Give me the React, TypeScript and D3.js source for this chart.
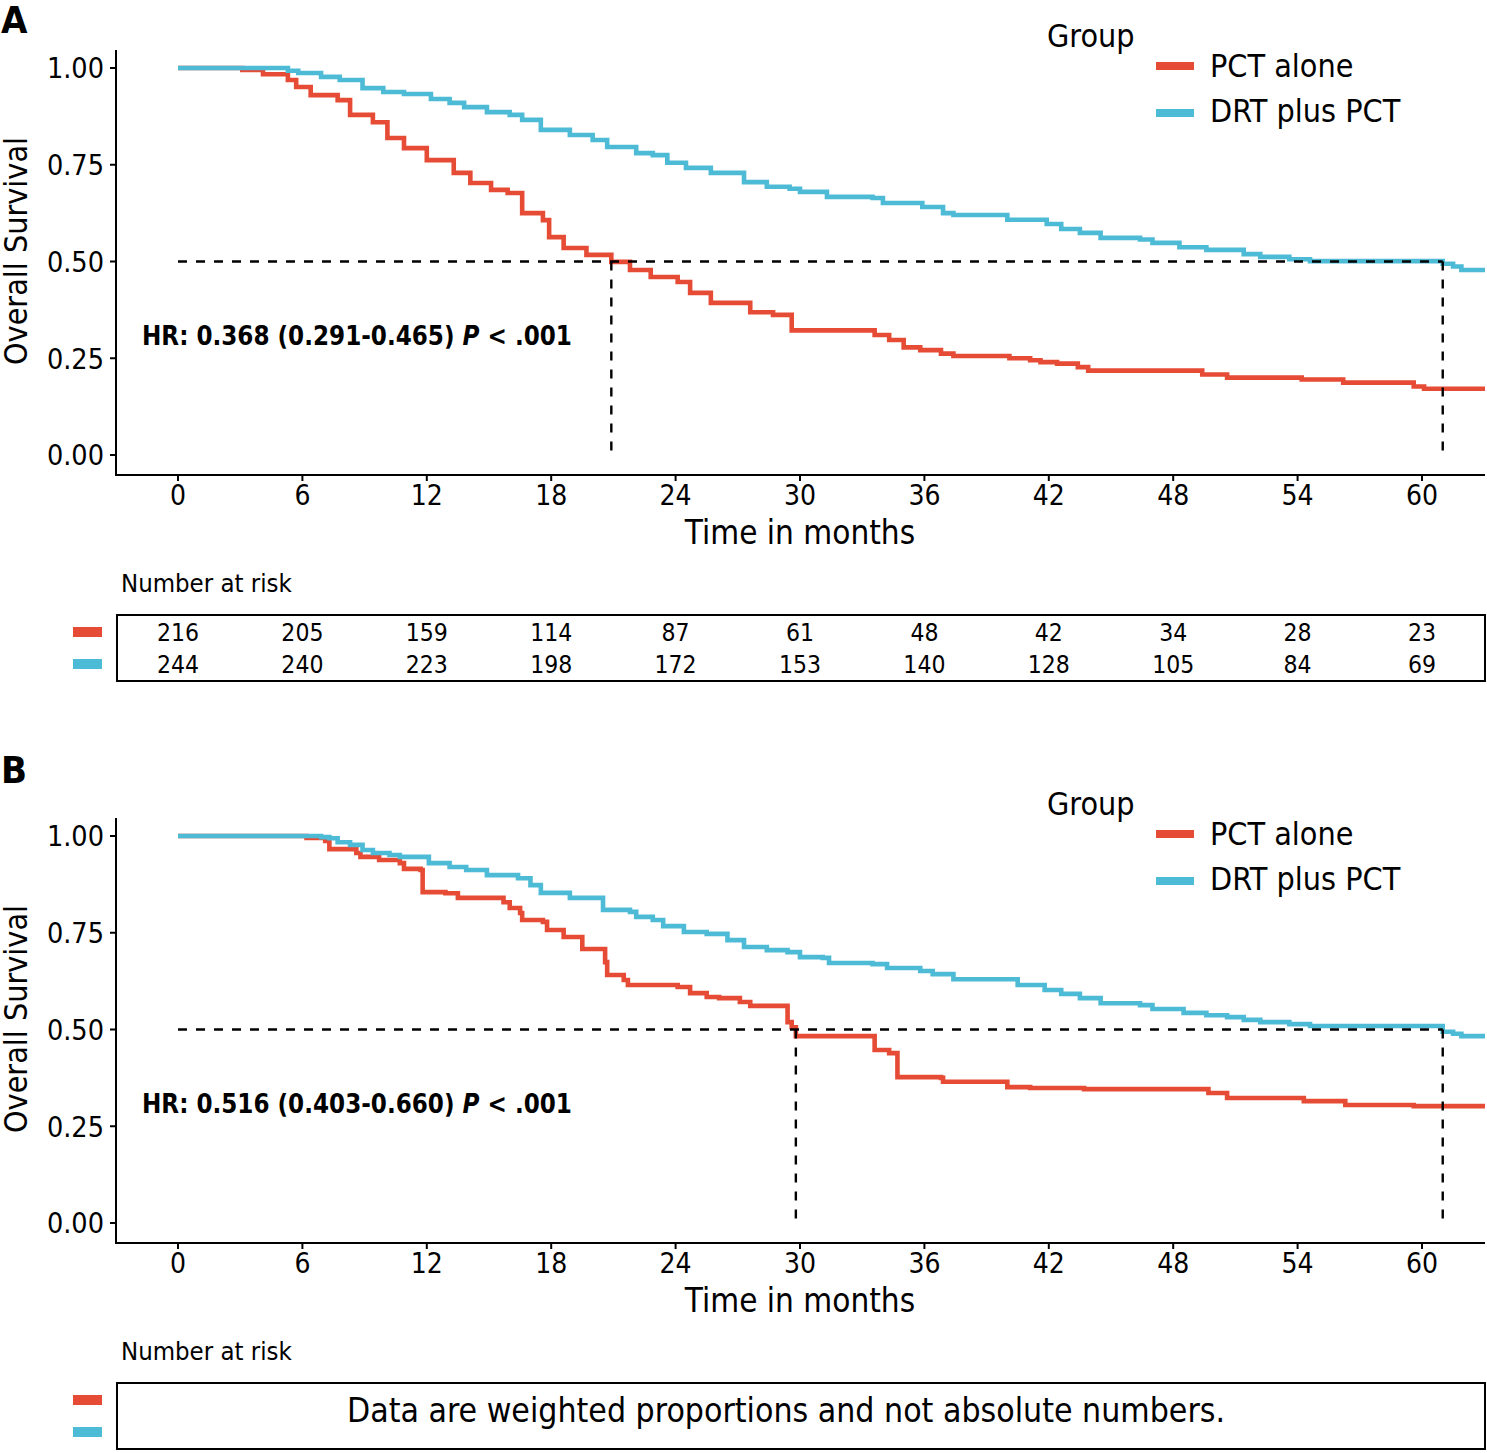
import React from "react";
import * as d3 from "d3";

// ---------- data ----------
const groups = ["PCT alone", "DRT plus PCT"];
const groupColors = ["#E64B35", "#4DBBD5"];
const xTicks = [0, 6, 12, 18, 24, 30, 36, 42, 48, 54, 60];
const yTicks = [0, 0.25, 0.5, 0.75, 1];
const yTickLabels = ["0.00", "0.25", "0.50", "0.75", "1.00"];
const followUpEnd = 63.1;

const riskPctA = [216, 205, 159, 114, 87, 61, 48, 42, 34, 28, 23];
const riskDrtA = [244, 240, 223, 198, 172, 153, 140, 128, 105, 84, 69];

const pctA: [number, number][] = [
  [0, 1], [3.1, 0.995], [4.1, 0.984], [5.3, 0.969], [5.7, 0.951], [6.4, 0.93], [7.7, 0.917],
  [8.3, 0.879], [9.4, 0.86], [10.1, 0.819], [10.9, 0.793], [12.0, 0.762], [13.3, 0.729],
  [14.1, 0.703], [15.1, 0.685], [15.9, 0.677], [16.6, 0.625], [17.6, 0.607], [17.9, 0.563],
  [18.6, 0.535], [19.7, 0.517], [20.9, 0.499], [21.8, 0.478], [22.8, 0.46], [24.1, 0.447],
  [24.7, 0.419], [25.7, 0.393], [27.6, 0.369], [28.7, 0.362], [29.6, 0.322], [33.6, 0.31],
  [34.3, 0.297], [35.0, 0.278], [35.8, 0.271], [36.8, 0.262], [37.4, 0.256], [40.1, 0.25],
  [41.1, 0.245], [41.6, 0.24], [42.4, 0.236], [43.4, 0.227], [43.9, 0.218], [49.4, 0.208],
  [50.6, 0.2], [54.2, 0.195], [56.2, 0.187], [59.6, 0.177], [60.1, 0.171],
];
const drtA: [number, number][] = [
  [0, 1], [5.3, 0.993], [5.8, 0.987], [6.9, 0.977], [7.8, 0.969], [8.9, 0.948], [9.9, 0.938],
  [10.9, 0.933], [12.2, 0.92], [13.1, 0.91], [13.8, 0.899], [14.9, 0.886], [16.0, 0.879],
  [16.6, 0.866], [17.5, 0.84], [18.9, 0.827], [20.0, 0.814], [20.7, 0.796], [22.1, 0.78],
  [22.9, 0.775], [23.6, 0.755], [24.5, 0.742], [25.7, 0.729], [27.3, 0.705], [28.4, 0.693],
  [29.5, 0.688], [30.0, 0.68], [31.3, 0.667], [33.5, 0.664], [34.0, 0.651], [35.9, 0.641],
  [36.9, 0.625], [37.4, 0.62], [40.0, 0.608], [41.9, 0.597], [42.6, 0.584], [43.5, 0.574],
  [44.5, 0.561], [46.4, 0.557], [47.0, 0.548], [48.3, 0.537], [49.6, 0.53], [51.4, 0.519],
  [52.2, 0.512], [53.6, 0.506], [54.6, 0.501], [61.0, 0.494], [61.5, 0.487], [61.9, 0.478],
];
const pctB: [number, number][] = [
  [0, 1], [6.2, 0.995], [7.1, 0.987], [7.3, 0.966], [8.6, 0.956], [8.8, 0.946], [9.7, 0.938],
  [10.7, 0.93], [10.9, 0.915], [11.7, 0.912], [11.8, 0.855], [12.9, 0.852], [13.5, 0.84],
  [15.7, 0.829], [16.0, 0.814], [16.5, 0.801], [16.6, 0.783], [17.6, 0.778], [17.8, 0.757],
  [18.6, 0.739], [19.5, 0.708], [20.6, 0.674], [20.7, 0.641], [21.5, 0.628], [21.7, 0.615],
  [24.1, 0.61], [24.7, 0.594], [25.5, 0.584], [26.1, 0.581], [27.1, 0.571], [27.6, 0.561],
  [29.4, 0.519], [29.6, 0.506], [29.8, 0.483], [33.6, 0.447], [34.3, 0.439], [34.7, 0.377],
  [36.8, 0.375], [36.9, 0.365], [40.0, 0.351], [41.1, 0.349], [43.7, 0.346], [49.7, 0.336],
  [50.6, 0.323], [54.3, 0.315], [56.3, 0.305], [59.6, 0.302],
];
const drtB: [number, number][] = [
  [0, 1], [6.9, 0.997], [7.3, 0.994], [7.7, 0.984], [8.3, 0.977], [8.9, 0.964], [9.4, 0.956],
  [10.2, 0.951], [10.7, 0.946], [12.1, 0.93], [13.1, 0.92], [13.9, 0.912], [14.9, 0.899],
  [16.4, 0.891], [17.0, 0.873], [17.5, 0.853], [18.9, 0.84], [20.5, 0.809], [21.8, 0.804],
  [22.1, 0.791], [22.9, 0.783], [23.4, 0.767], [24.4, 0.752], [25.5, 0.747], [26.5, 0.731],
  [27.3, 0.713], [28.4, 0.705], [29.4, 0.7], [30.0, 0.687], [31.1, 0.685], [31.4, 0.672],
  [33.5, 0.669], [34.2, 0.659], [35.8, 0.651], [36.4, 0.643], [37.4, 0.63], [40.5, 0.615],
  [41.8, 0.602], [42.6, 0.592], [43.5, 0.581], [44.5, 0.568], [46.4, 0.563], [47.0, 0.553],
  [48.5, 0.543], [49.6, 0.537], [50.6, 0.532], [51.4, 0.525], [52.2, 0.519], [53.6, 0.514],
  [54.6, 0.509], [61.0, 0.494], [61.5, 0.489], [61.9, 0.483],
];
const mediansA = [20.9, 61.0];
const mediansB = [29.8, 61.0];

// ---------- layout ----------
const W = 1487;
const H = 1453;
const FONT = "'DejaVu Sans Condensed', 'DejaVu Sans', sans-serif";
const panelLeft = 116;
const panelRight = 1485;

const xScale = d3.scaleLinear().domain([0, 60]).range([178, 1422]);

function Panel({ dy, curves, medians, hr, letter, letterY, risk }: any) {
  const yScale = d3.scaleLinear().domain([0, 1]).range([455 + dy, 68 + dy]);
  const axisY = 475 + dy;
  const topY = 50 + dy;
  const line = d3
    .line<[number, number]>()
    .x((d) => xScale(d[0]))
    .y((d) => yScale(d[1]))
    .curve(d3.curveStepAfter);
  const clipId = `clip${dy}`;
  const maxMed = Math.max(...medians);
  return (
    <g fontFamily={FONT} style={{ fontStretch: "condensed" }}>
      <defs>
        <clipPath id={clipId}>
          <rect x={panelLeft} y={topY - 5} width={panelRight - panelLeft} height={axisY - topY + 5} />
        </clipPath>
      </defs>
      <text x={1} y={letterY} fontSize={38} fontWeight="bold">{letter}</text>
      {/* curves */}
      <g clipPath={`url(#${clipId})`}>
        {curves.map((c: [number, number][], i: number) => {
          const pts = [...c, [followUpEnd, c[c.length - 1][1]] as [number, number]];
          return (
            <path key={i} d={line(pts) || ""} fill="none" stroke={groupColors[i]} strokeWidth={4.6} />
          );
        })}
      </g>
      {/* median lines */}
      <line x1={xScale(0)} x2={xScale(maxMed)} y1={yScale(0.5)} y2={yScale(0.5)} stroke="#000" strokeWidth={2.4} strokeDasharray="9,9" />
      {medians.map((m: number, i: number) => (
        <line key={i} x1={xScale(m)} x2={xScale(m)} y1={yScale(0.5)} y2={yScale(0)} stroke="#000" strokeWidth={2.4} strokeDasharray="9,9" />
      ))}
      {/* axes */}
      <line x1={panelLeft} x2={panelLeft} y1={topY} y2={axisY + 1} stroke="#000" strokeWidth={2} />
      <line x1={panelLeft - 1} x2={panelRight} y1={axisY} y2={axisY} stroke="#000" strokeWidth={2} />
      {yTicks.map((t, i) => (
        <g key={i}>
          <line x1={panelLeft - 6} x2={panelLeft} y1={yScale(t)} y2={yScale(t)} stroke="#000" strokeWidth={2} />
          <text x={104} y={yScale(t)} dy="0.36em" textAnchor="end" fontSize={28.5}>{yTickLabels[i]}</text>
        </g>
      ))}
      {xTicks.map((t, i) => (
        <g key={i}>
          <line x1={xScale(t)} x2={xScale(t)} y1={axisY} y2={axisY + 6} stroke="#000" strokeWidth={2} />
          <text x={xScale(t)} y={495 + dy} dy="0.36em" textAnchor="middle" fontSize={28}>{t}</text>
        </g>
      ))}
      <text x={800} y={544 + dy} textAnchor="middle" fontSize={33}>Time in months</text>
      <text transform={`translate(27,${251 + dy}) rotate(-90)`} textAnchor="middle" fontSize={32}>Overall Survival</text>
      {/* HR */}
      <text x={142} y={345 + dy} fontSize={25.7} fontWeight="bold">
        {hr}<tspan fontStyle="italic">P</tspan>{" < .001"}
      </text>
      {/* legend */}
      <text x={1047} y={47 + dy} fontSize={32}>Group</text>
      {groups.map((g, i) => (
        <g key={i}>
          <line x1={1156} x2={1194} y1={(i === 0 ? 66 : 113) + dy} y2={(i === 0 ? 66 : 113) + dy} stroke={groupColors[i]} strokeWidth={8} />
          <text x={1210} y={(i === 0 ? 77 : 122) + dy} fontSize={32}>{g}</text>
        </g>
      ))}
      {/* risk table */}
      <text x={121} y={592 + dy} fontSize={25.5}>Number at risk</text>
      <rect x={117} y={615 + dy} width={1368} height={66} fill="none" stroke="#000" strokeWidth={2} />
      {groupColors.map((c, i) => (
        <rect key={i} x={73} y={(i === 0 ? 627 : 659) + dy} width={29} height={10} fill={c} />
      ))}
      {risk
        ? risk.map((row: number[], r: number) =>
            row.map((v: number, k: number) => (
              <text key={`${r}-${k}`} x={xScale(xTicks[k])} y={(r === 0 ? 632 : 664) + dy} dy="0.36em" textAnchor="middle" fontSize={24.5}>
                {v}
              </text>
            ))
          )
        : (
          <text x={786} y={1410} dy="0.36em" textAnchor="middle" fontSize={33.5}>
            Data are weighted proportions and not absolute numbers.
          </text>
        )}
    </g>
  );
}

export default function App() {
  return (
    <svg width={W} height={H} style={{ position: "absolute", left: 0, top: 0, background: "#fff" }}>
      <rect width={W} height={H} fill="#fff" />
      <Panel dy={0} curves={[pctA, drtA]} medians={mediansA} hr="HR: 0.368 (0.291-0.465) " letter="A" letterY={33} risk={[riskPctA, riskDrtA]} />
      <Panel dy={768} curves={[pctB, drtB]} medians={mediansB} hr="HR: 0.516 (0.403-0.660) " letter="B" letterY={783} risk={null} />
    </svg>
  );
}
